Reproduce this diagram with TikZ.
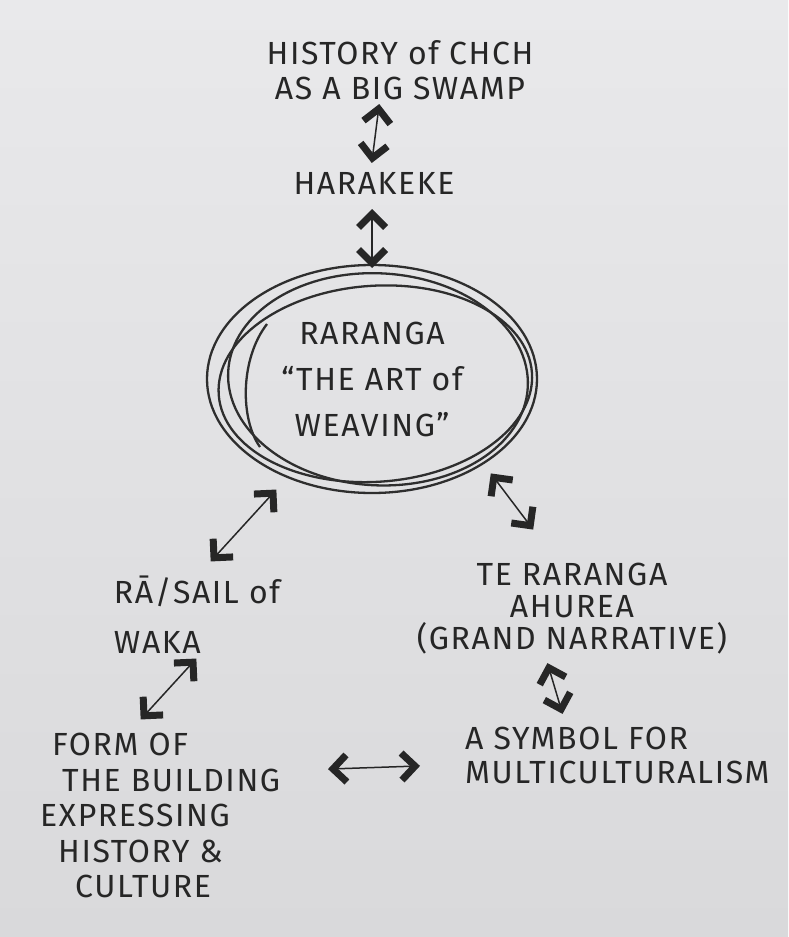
\documentclass[tikz,border=0pt]{standalone}
\usepackage{fontspec}
\setmainfont{Fira Sans}[LetterSpace=5.0]
\usetikzlibrary{shapes.geometric,calc,decorations.markings}
\definecolor{ink}{HTML}{262626}
\definecolor{pencil}{HTML}{2E2E2E}
\definecolor{paperA}{HTML}{E9E9EB}
\definecolor{paperB}{HTML}{D9D9DB}
\begin{document}
\begin{tikzpicture}[x=1pt,y=-1pt,
  txt/.style={text=ink, inner sep=0pt, font=\fontsize{32}{35}\selectfont},
  twoway/.style={draw=ink, line width=1.5pt,
    postaction={decorate, decoration={markings,
      mark=at position 0 with {\fill[ink] (-2,0) -- (14,16) -- (18.95,11.05) -- (7.9,0) -- (18.95,-11.05) -- (14,-16) -- cycle;},
      mark=at position 1 with {\fill[ink] (2,0) -- (-14,16) -- (-18.95,11.05) -- (-7.9,0) -- (-18.95,-11.05) -- (-14,-16) -- cycle;}}}},
  scribble/.style={draw=pencil, line width=2.3pt}]
\shade[top color=paperA,bottom color=paperB] (0,0) rectangle (788,937);
\useasboundingbox (0,0) rectangle (788,937);

% nodes
\node[txt, align=center] (swamp) at (400,70) {HISTORY of CHCH\\AS A BIG SWAMP};
\node[txt] (harakeke) at (374,183) {HARAKEKE};
\node[txt, align=center, ellipse, draw=pencil, line width=2.3pt,
      minimum width=330pt, minimum height=228pt,
      font=\fontsize{32}{46}\selectfont] (raranga) at (372,379)
      {RARANGA\\“THE ART of\\WEAVING”};
\node[txt, align=left, font=\fontsize{32}{50}\selectfont] (rasail) at (197,615) {RĀ/SAIL of\\WAKA};
\node[txt, align=center, font=\fontsize{32}{32}\selectfont] (terangan) at (572,609)
      {TE RARANGA\\AHUREA\\(GRAND NARRATIVE)};
\node[txt, align=left, anchor=north west, font=\fontsize{32}{34}\selectfont] (symbol) at (465,727)
      {A SYMBOL FOR\\MULTICULTURALISM};
\node[txt, align=left, anchor=north west, font=\fontsize{32}{35.5}\selectfont] (form) at (40,733)
      {\hspace*{12pt}FORM OF\\\hspace*{22pt}THE BUILDING\\EXPRESSING\\\hspace*{18pt}HISTORY \&\\\hspace*{35pt}CULTURE};

% extra pencil loops round the central ellipse
\draw[scribble, rotate around={4:(raranga.center)}] ($(raranga.center)+(3,5)$) ellipse [x radius=157pt, y radius=98pt];
\draw[scribble, rotate around={-3:(raranga.center)}] ($(raranga.center)+(6,0)$) ellipse [x radius=150pt, y radius=106pt];
\draw[scribble] ($(raranga.center)+(-105,-55)$) .. controls ($(raranga.center)+(-132,-20)$) and ($(raranga.center)+(-132,40)$) .. ($(raranga.center)+(-112,68)$);

% connectors
\draw[twoway] ($(swamp.center)+(-21,36)$) -- ($(harakeke.center)+(-2,-22)$);
\draw[twoway] ($(harakeke.center)+(-2,28)$) -- ($(raranga.center)+(0,-113)$);
\draw[twoway] ($(raranga.center)+(-97,112)$) -- ($(rasail.center)+(15,-55)$);
\draw[twoway] ($(raranga.center)+(120,96)$) -- ($(terangan.center)+(-40,-81)$);
\draw[twoway] ($(rasail.center)+(-2,45)$) -- ($(form.north west)+(102,-15)$);
\draw[twoway] ($(terangan.center)+(-24,56)$) -- ($(symbol.north west)+(97,-15)$);
\draw[twoway] ($(form.north west)+(290,36)$) -- ($(symbol.north west)+(-47,39)$);
\end{tikzpicture}
\end{document}
